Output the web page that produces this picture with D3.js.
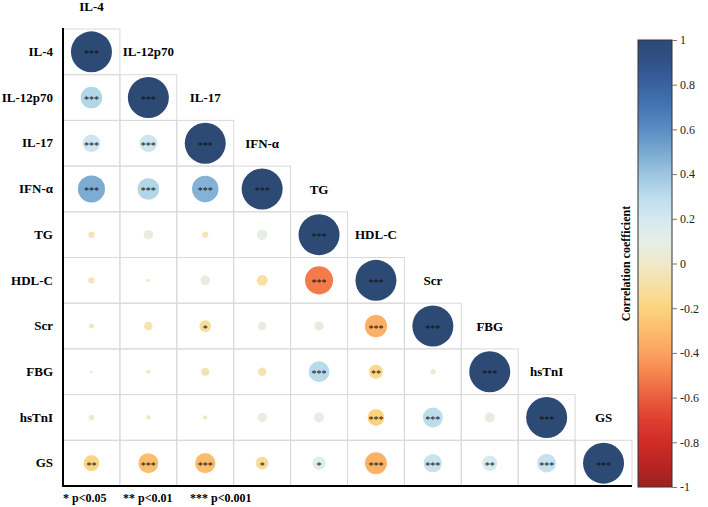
<!DOCTYPE html>
<html>
<head>
<meta charset="utf-8">
<script src="https://cdn.jsdelivr.net/npm/d3@7"></script>
<style>
  html, body { margin: 0; padding: 0; background: #fff; }
  svg { display: block; }
  text { font-family: "Liberation Serif", "DejaVu Serif", "Times New Roman", serif; }
</style>
</head>
<body>
<svg id="chart" width="708" height="507"></svg>
<script>
// ---------------- data ----------------
const variables = ["IL-4", "IL-12p70", "IL-17", "IFN-α", "TG", "HDL-C", "Scr", "FBG", "hsTnI", "GS"];

// lower-triangular correlation coefficients (row i, columns 0..i)
const corrRows = [
  [1],
  [0.33, 1],
  [0.23, 0.23, 1],
  [0.49, 0.33, 0.47, 1],
  [-0.04, 0.08, -0.04, 0.095, 1],
  [-0.04, -0.014, 0.08, -0.10, -0.52, 1],
  [-0.027, -0.066, -0.115, 0.066, 0.078, -0.35, 1],
  [-0.008, -0.02, -0.06, -0.066, 0.31, -0.157, 0.03, 1],
  [0.03, -0.02, -0.02, 0.08, 0.087, -0.21, 0.29, 0.087, 1],
  [-0.19, -0.29, -0.30, -0.13, 0.14, -0.34, 0.25, 0.18, 0.26, 1]
];

// significance marks (same shape)
const sigRows = [
  ["***"],
  ["***", "***"],
  ["***", "***", "***"],
  ["***", "***", "***", "***"],
  ["", "", "", "", "***"],
  ["", "", "", "", "***", "***"],
  ["", "", "*", "", "", "***", "***"],
  ["", "", "", "", "***", "**", "", "***"],
  ["", "", "", "", "", "***", "***", "", "***"],
  ["**", "***", "***", "*", "*", "***", "***", "**", "***", "***"]
];

const colorbarTicks = [1, 0.8, 0.6, 0.4, 0.2, 0, -0.2, -0.4, -0.6, -0.8, -1];
const legendNotes = ["* p<0.05", "** p<0.01", "*** p<0.001"];
const colorbarTitle = "Correlation coefficient";

// colour palette (value -> colour)
const paletteValues = [-1, -0.9, -0.8, -0.7, -0.6, -0.5, -0.4, -0.3, -0.2, -0.1, 0, 0.1, 0.2, 0.3, 0.4, 0.5, 0.6, 0.7, 0.8, 0.9, 1];
const paletteColors = ["#9b2220", "#b82523", "#d12b27", "#de3e30", "#ea5e3e", "#f5814c", "#fca25e", "#fcbc6c", "#fcd47f", "#f7e0a2",
                       "#efe8c9", "#e5eee6", "#d4e9f0", "#bcdcec", "#9cc5e0", "#79a9d1", "#5a8ec3", "#4476b4", "#3a62a0", "#31528a", "#2c4a74"];

// ---------------- layout ----------------
const svg = d3.select("#chart");
const plotLeft = 63, plotRight = 632, plotTop = 29, plotBottom = 486;

const x = d3.scaleBand().domain(variables).range([plotLeft, plotRight]);
const y = d3.scaleBand().domain(variables).range([plotTop, plotBottom]);
const bw = x.bandwidth(), bh = y.bandwidth();

const color = d3.scaleLinear().domain(paletteValues).range(paletteColors).interpolate(d3.interpolateRgb).clamp(true);
const rMax = 20.5;
const radius = d3.scalePow().exponent(0.58).domain([0, 1]).range([0, rMax]);

const cells = [];
corrRows.forEach((row, i) => row.forEach((v, j) => {
  cells.push({ row: variables[i], col: variables[j], i, j, r: v, sig: sigRows[i][j] });
}));

// grid cells
svg.append("g").selectAll("rect").data(cells).join("rect")
  .attr("x", d => x(d.col)).attr("y", d => y(d.row))
  .attr("width", bw).attr("height", bh)
  .attr("fill", "none").attr("stroke", "#d9d9d9").attr("stroke-width", 1);

// circles
svg.append("g").selectAll("circle").data(cells).join("circle")
  .attr("cx", d => x(d.col) + bw / 2).attr("cy", d => y(d.row) + bh / 2)
  .attr("r", d => radius(Math.abs(d.r)))
  .attr("fill", d => color(d.r));

// stars
svg.append("g").selectAll("text").data(cells.filter(d => d.sig)).join("text")
  .attr("x", d => x(d.col) + bw / 2).attr("y", d => y(d.row) + bh / 2 + 5.5)
  .attr("text-anchor", "middle").attr("font-size", 10).attr("fill", "#111")
  .text(d => d.sig);

// row labels (left axis)
const yAxis = svg.append("g").attr("transform", `translate(${plotLeft},0)`)
  .call(d3.axisLeft(y).tickSize(0).tickPadding(10));
yAxis.select(".domain").remove();
yAxis.selectAll("text").attr("font-weight", "bold").attr("font-size", 13).attr("fill", "#000");

// column labels on the diagonal
svg.append("g").selectAll("text").data(variables).join("text")
  .attr("x", d => x(d) + bw / 2)
  .attr("y", (d, i) => plotTop + (i - 0.5) * bh)
  .attr("dy", "0.35em").attr("text-anchor", "middle")
  .attr("font-weight", "bold").attr("font-size", 13).attr("fill", "#000")
  .text(d => d);

// axis lines
svg.append("line").attr("x1", plotLeft).attr("x2", plotLeft).attr("y1", plotTop - 1).attr("y2", plotBottom + 1)
  .attr("stroke", "#000").attr("stroke-width", 2);
svg.append("line").attr("x1", plotLeft - 1).attr("x2", plotRight).attr("y1", plotBottom).attr("y2", plotBottom)
  .attr("stroke", "#000").attr("stroke-width", 2);

// legend notes
const noteX = [63, 123, 190];
svg.append("g").selectAll("text").data(legendNotes).join("text")
  .attr("x", (d, i) => noteX[i]).attr("y", 502)
  .attr("font-weight", "bold").attr("font-size", 12).attr("fill", "#000")
  .text(d => d);

// ---------------- colour bar ----------------
const cbX = 638, cbW = 34, cbTop = 40, cbBottom = 487;
const cbScale = d3.scaleLinear().domain([-1, 1]).range([cbBottom, cbTop]);

const defs = svg.append("defs");
const grad = defs.append("linearGradient").attr("id", "cbgrad")
  .attr("x1", 0).attr("y1", 1).attr("x2", 0).attr("y2", 0);
grad.selectAll("stop").data(paletteValues).join("stop")
  .attr("offset", d => (d + 1) / 2)
  .attr("stop-color", d => color(d));

svg.append("rect").attr("x", cbX).attr("y", cbTop).attr("width", cbW).attr("height", cbBottom - cbTop)
  .attr("fill", "url(#cbgrad)").attr("stroke", "#333").attr("stroke-width", 1);

const cbAxis = svg.append("g").attr("transform", `translate(${cbX + cbW},0)`)
  .call(d3.axisRight(cbScale).tickValues(colorbarTicks).tickSize(5).tickPadding(3)
    .tickFormat(d => String(+d.toFixed(1))));
cbAxis.select(".domain").remove();
cbAxis.selectAll("line").attr("stroke", "#777");
cbAxis.selectAll("text").attr("font-size", 12).attr("fill", "#222");

svg.append("text")
  .attr("transform", `translate(630,${(cbTop + cbBottom) / 2}) rotate(-90)`)
  .attr("text-anchor", "middle").attr("font-weight", "bold").attr("font-size", 12).attr("fill", "#000")
  .text(colorbarTitle);
</script>
</body>
</html>
